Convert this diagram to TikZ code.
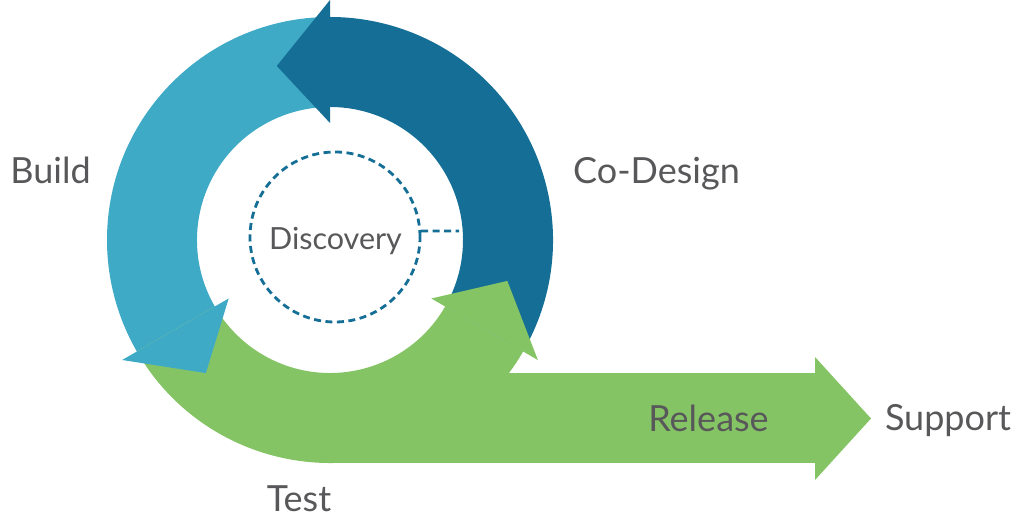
\documentclass[tikz,border=0pt]{standalone}
\usepackage{fontspec}
\setmainfont{Lato}
\usepackage{tikz}

\definecolor{buildblue}{HTML}{3FAAC6}
\definecolor{designblue}{HTML}{146E96}
\definecolor{testgreen}{HTML}{85C465}
\definecolor{labelgray}{HTML}{58585A}

\begin{document}
\begin{tikzpicture}[x=1pt,y=1pt,
        every node/.style={text=labelgray,inner sep=0pt,font=\fontsize{36}{40}\selectfont},
        stage/.style={anchor=base},
        dots/.style={draw=designblue,line width=2.8pt,dash pattern=on 7pt off 4.5pt},
        disc/.style={dots,circle,minimum size=170pt}]

    \useasboundingbox (0,0) rectangle (1024,526);

    \begin{scope}[shift={(330,286)}]
        \fill[buildblue] (90:223) arc[start angle=90,end angle=210,radius=223]
            -- (210:133) arc[start angle=210,end angle=90,radius=133] -- cycle;
        \fill[designblue] (-30:223) arc[start angle=-30,end angle=90,radius=223]
            -- (90:133) arc[start angle=90,end angle=-30,radius=133] -- cycle;
        \fill[testgreen] (210:223) arc[start angle=210,end angle=330,radius=223]
            -- (330:133) arc[start angle=330,end angle=210,radius=133] -- cycle;
        \fill[testgreen] (0,-223) rectangle (485,-133);
        \fill[testgreen] (485,-240) -- (541,-178.5) -- (485,-117) -- cycle;
        % heads
        \foreach \a/\c in {90/designblue,210/buildblue,330/testgreen}
            \fill[\c] (\a:117) -- (\a+17:182) -- (\a:240) -- cycle;
    \end{scope}

    \node[disc] (disc) at (335,289) {};
    \node[stage,font=\fontsize{30.5}{34}\selectfont] (discovery) at (335.5,276) {Discovery};
    \coordinate (ringedge) at (459,295);
    \draw[dots] (disc.4) -- (ringedge);

    \node[stage] (build) at (50.5,342) {Build};
    \node[stage] (codesign) at (656.5,342) {Co-Design};
    \node[stage] (release) at (708.5,94) {Release};
    \node[stage] (support) at (948,95) {Support};
    \node[stage] (test) at (299,14) {Test};
\end{tikzpicture}
\end{document}
